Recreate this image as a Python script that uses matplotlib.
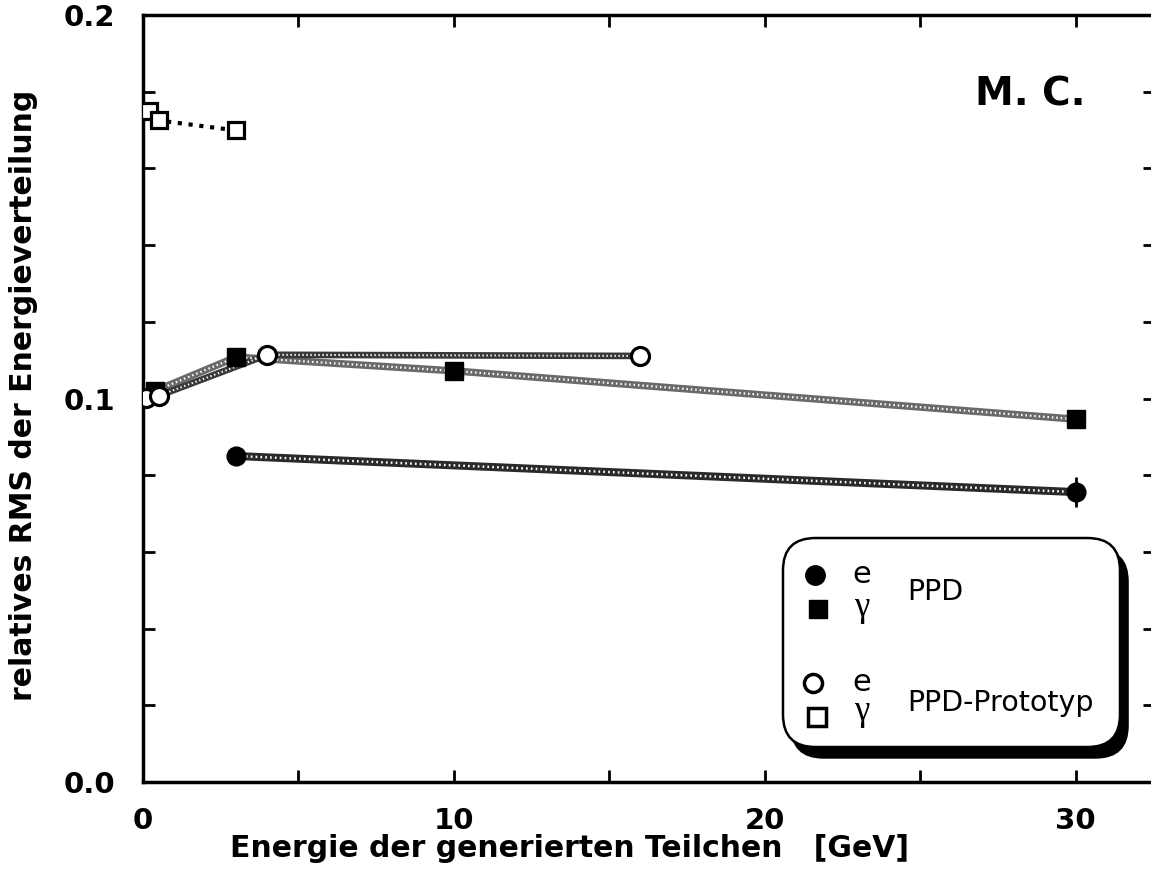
import matplotlib
matplotlib.use("Agg")
import matplotlib.pyplot as plt
from matplotlib.patches import FancyBboxPatch
from matplotlib.ticker import MultipleLocator, FormatStrFormatter

# PPD, electrons
ppd_e_energy = [3, 30]
ppd_e_rms = [0.085, 0.0756]
ppd_e_err = [0.0, 0.004]

# PPD, photons
ppd_g_energy = [0.4, 3, 10, 30]
ppd_g_rms = [0.102, 0.1108, 0.1072, 0.0946]

# PPD prototype, electrons
proto_e_energy = [0.1, 0.5, 4, 16]
proto_e_rms = [0.1001, 0.1007, 0.1114, 0.1111]

# PPD prototype, photons
proto_g_energy = [0.2, 0.5, 3]
proto_g_rms = [0.1749, 0.1725, 0.1699]

W, H = 1151, 890
fig = plt.figure(figsize=(W / 100, H / 100), dpi=100)
ax = fig.add_axes([143 / W, 108 / H, 1012 / W, 767 / H])


def rope(x, y, color, lw=5.0):
    # textured grey line like the old print
    ax.plot(x, y, color=color, lw=lw, solid_capstyle="round", zorder=2)
    ax.plot(x, y, color="white", lw=lw * 0.3, ls=(0, (0.7, 1.3)), zorder=2.1)


rope(ppd_e_energy, ppd_e_rms, "#2a2a2a", 5.8)
rope(ppd_g_energy, ppd_g_rms, "#6a6a6a", 5.3)
rope(proto_e_energy, proto_e_rms, "#3a3a3a", 4.8)
ax.plot(proto_g_energy, proto_g_rms, color="black", lw=3, ls=(0, (1, 1.6)), zorder=2)

ax.errorbar(ppd_e_energy, ppd_e_rms, yerr=ppd_e_err, fmt="none",
            ecolor="black", elinewidth=2, capsize=0, zorder=3)
ax.plot(ppd_e_energy, ppd_e_rms, "o", ms=13.5, color="black", zorder=4)
ax.plot(ppd_g_energy, ppd_g_rms, "s", ms=13.5, color="black", zorder=4)
ax.plot(proto_e_energy, proto_e_rms, "o", ms=13, mfc="white", mec="black",
        mew=2.3, zorder=5)
ax.plot(proto_g_energy, proto_g_rms, "s", ms=12, mfc="white", mec="black",
        mew=2.3, zorder=5)

ax.set_xlim(0, 32.55)
ax.set_ylim(0, 0.2)
ax.xaxis.set_major_locator(MultipleLocator(10))
ax.xaxis.set_minor_locator(MultipleLocator(5))
ax.yaxis.set_major_locator(MultipleLocator(0.1))
ax.yaxis.set_minor_locator(MultipleLocator(0.02))
ax.yaxis.set_major_formatter(FormatStrFormatter("%.1f"))

for s in ax.spines.values():
    s.set_linewidth(2.5)
ax.tick_params(which="both", direction="in", length=8.5, width=2,
               top=True, right=True)
ax.tick_params(axis="y", which="major", pad=20, labelsize=21)
ax.tick_params(axis="x", which="major", pad=18, labelsize=21)
for lab in ax.get_xticklabels() + ax.get_yticklabels():
    lab.set_fontweight("bold")

ax.set_xlabel("Energie der generierten Teilchen   [GeV]", fontsize=21.5,
              fontweight="bold")
ax.xaxis.set_label_coords((570 - 143) / 1012, -0.068)
ax.set_ylabel("relatives RMS der Energieverteilung", fontsize=21.5,
              fontweight="bold")
ax.yaxis.set_label_coords(-0.104, (890 - 395 - 108) / 767)

ax.text(0.8765, 0.8957, "M. C.", transform=ax.transAxes, fontsize=28,
        fontweight="bold", ha="center", va="center")

# legend box with drop shadow
x0, y0, x1, y1 = 0.6324, 0.0456, 0.9654, 0.3181
asp = 1012 / 767
box_kw = dict(boxstyle="round,pad=0,rounding_size=0.032", mutation_aspect=asp,
              transform=ax.transAxes, clip_on=False)
ax.add_patch(FancyBboxPatch((x0 + 0.008, y0 - 0.0143), x1 - x0, y1 - y0,
                            fc="black", ec="black", zorder=6, **box_kw))
ax.add_patch(FancyBboxPatch((x0, y0), x1 - x0, y1 - y0, fc="white",
                            ec="black", lw=1.8, zorder=7, **box_kw))

tr = ax.transAxes
ax.plot(0.664, 0.2699, "o", ms=14, color="black", transform=tr, zorder=8)
ax.plot(0.667, 0.2256, "s", ms=13, color="black", transform=tr, zorder=8)
ax.plot(0.6621, 0.1291, "o", ms=13, mfc="white", mec="black", mew=2.5,
        transform=tr, zorder=8)
ax.plot(0.666, 0.0847, "s", ms=12.5, mfc="white", mec="black", mew=2.5,
        transform=tr, zorder=8)
for yy, sym in [(0.2699, "e"), (0.2269, "γ"), (0.1291, "e"), (0.0913, "γ")]:
    if sym == "e":
        ax.text(0.7105, yy, sym, transform=tr, fontsize=22,
                family="DejaVu Sans", ha="center", va="center", zorder=8)
    else:
        ax.text(0.7105, yy, sym, transform=tr, fontsize=25,
                family="Liberation Serif", ha="center", va="center", zorder=8)
ax.text(0.7549, 0.2477, "PPD", transform=tr, fontsize=20.5, ha="left",
        va="center", zorder=8)
ax.text(0.7549, 0.1030, "PPD-Prototyp", transform=tr, fontsize=20.5, ha="left",
        va="center", zorder=8)

fig.savefig("out.png", dpi=100)
